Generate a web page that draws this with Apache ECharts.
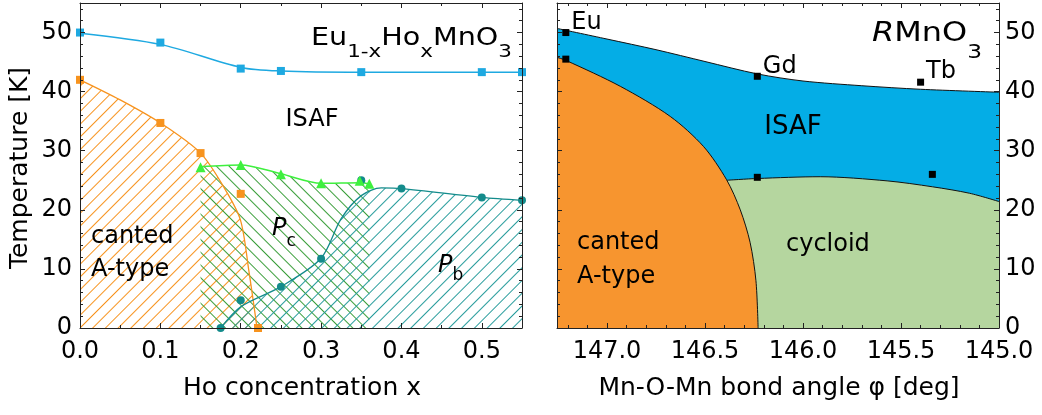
<!DOCTYPE html>
<html><head><meta charset="utf-8">
<script src="https://cdn.jsdelivr.net/npm/echarts@6/dist/echarts.min.js"></script>
<style>html,body{margin:0;padding:0;background:#fff}#c{width:1042px;height:415px}</style>
</head><body><div id="c"></div>
<script>
// ===== data: left panel (Eu1-xHoxMnO3) =====
const leftXTicks = [0, 0.1, 0.2, 0.3, 0.4, 0.5];
const tempTicks = [0, 10, 20, 30, 40, 50];
const cyanPts = [[0,50.0],[0.1,48.3],[0.2,43.9],[0.25,43.5],[0.35,43.3],[0.5,43.3],[0.55,43.3]];
const cyanCurve = [[0,49.9],[0.1,48.0],[0.2,44.1],[0.25,43.5],[0.35,43.3],[0.5,43.3],[0.55,43.3]];
const orangePts = [[0,42.0],[0.1,34.7],[0.15,29.6],[0.2,22.7],[0.2215,0]];
const orangeCurve = [[0,42.0],[0.05,38.6],[0.1,34.7],[0.15,29.6],[0.18,23.6],[0.1996,18.3],[0.21,9.8],[0.2203,0]];
const greenPts = [[0.15,27.2],[0.2,27.6],[0.25,26.0],[0.3,24.5],[0.348,24.9],[0.36,24.4]];
const greenCurve = [[0.15,27.3],[0.2,27.6],[0.25,26.1],[0.3,24.5],[0.35,24.6],[0.36,24.4]];
const tealPts = [[0.175,0],[0.2,4.7],[0.25,7.0],[0.3,11.7],[0.35,25.0],[0.4,23.6],[0.5,22.1],[0.55,21.6]];
const tealCurve = [[0.175,0],[0.2,3.6],[0.25,7.0],[0.3,11.8],[0.325,18.5],[0.35,22.4],[0.375,23.7],[0.4,23.6],[0.5,22.1],[0.55,21.6]];

// ===== data: right panel (RMnO3) =====
const rightXTicks = [145.0, 145.5, 146.0, 146.5, 147.0];
const rTopCurve = [[147.255,50.7],[147.0,48.9],[146.75,47.1],[146.5,45.1],[146.233,43.0],[146.0,41.8],[145.7,41.0],[145.4,40.4],[145.0,39.9]];
const rOrangeCurve = [[147.255,45.8],[147.21,45.3],[146.932,40.9],[146.677,35.8],[146.507,30.7],[146.39,25.1],[146.32,20.0],[146.27,14.5],[146.24,8],[146.229,0]];
const rGreenCurve = [[146.39,25.0],[146.233,25.3],[145.912,25.6],[145.571,24.9],[145.34,23.9],[145.15,22.8],[145.0,21.4]];
const rNamedPts = [[147.21,50.0],[146.233,42.6],[145.40,41.6]];
const rNames = ['Eu','Gd','Tb'];
const rOtherPts = [[147.21,45.5],[146.233,25.5],[145.34,26.0]];

// ===== style =====
const FONT = 'DejaVu Sans';
const AX = '#222';
const C = {cyan:'#1ea9e1', orange:'#f7931e', lime:'#3ef03e', teal:'#138b8b',
  greenH:'#3a9e3a', tealH:'#279c9c', blue:'#04ade6', rOrange:'#f7952f', rGreen:'#b5d69f'};

// diagonal hatch through ECharts decal: dir '/' or '\'
function hatch(color, dir) {
  return {symbol:'rect', symbolSize:1, dashArrayX:[1,0], dashArrayY:[1,8],
    rotation: dir === '/' ? -Math.PI/4 : Math.PI/4, color, backgroundColor:null};
}

function ax(grid, pos, min, max, interval, len, main, labels, inverse, fmt, margin) {
  return {type:'value', gridIndex:grid, position:pos, min, max, interval, inverse:!!inverse, z:10,
    axisLine:{show:main, onZero:false, lineStyle:{color:AX, width:1}},
    axisTick:{show:true, inside:true, length:len, lineStyle:{color:AX, width:1}},
    axisLabel:{show:!!labels, formatter:fmt, fontSize:24, fontFamily:FONT, color:'#000', margin:margin||10},
    splitLine:{show:false}};
}
const fmtLX = v => leftXTicks.some(t => Math.abs(t - v) < 1e-6) ? v.toFixed(1) : '';
const fmtRX = v => rightXTicks.some(t => Math.abs(t - v) < 1e-6) ? v.toFixed(1) : '';
const fmtT = v => tempTicks.some(t => Math.abs(t - v) < 1e-6) ? String(Math.round(v)) : '';

const LXmin = 0, LXmax = 0.55, RXmin = 145.0, RXmax = 147.255, Tmin = 0, Tmax = 55;
const LXint = leftXTicks[1] - leftXTicks[0];
const RXint = rightXTicks[1] - rightXTicks[0];
const Tint = tempTicks[1] - tempTicks[0];

const xAxis = [
  ax(0,'bottom',LXmin,LXmax,LXint,5,true,true,false,fmtLX,12),
  ax(0,'bottom',LXmin,LXmax,LXint/2,3,false,false),
  ax(0,'top',LXmin,LXmax,LXint,5,true,false),
  ax(0,'top',LXmin,LXmax,LXint/2,3,false,false),
  ax(1,'bottom',RXmin,RXmax,RXint,5,true,true,true,fmtRX,12),
  ax(1,'bottom',RXmin,RXmax,RXint/5,3,false,false,true),
  ax(1,'top',RXmin,RXmax,RXint,5,true,false,true),
  ax(1,'top',RXmin,RXmax,RXint/5,3,false,false,true)
];
const yAxis = [
  ax(0,'left',Tmin,Tmax,Tint,5,true,true,false,fmtT,8),
  ax(0,'left',Tmin,Tmax,Tint/5,3,false,false),
  ax(0,'right',Tmin,Tmax,Tint,5,true,false),
  ax(0,'right',Tmin,Tmax,Tint/5,3,false,false),
  ax(1,'right',Tmin,Tmax,Tint,5,true,true,false,fmtT,6),
  ax(1,'right',Tmin,Tmax,Tint/5,3,false,false),
  ax(1,'left',Tmin,Tmax,Tint,5,true,false),
  ax(1,'left',Tmin,Tmax,Tint/5,3,false,false)
];

const L = {xAxisIndex:0, yAxisIndex:0, silent:true};
const R = {xAxisIndex:4, yAxisIndex:4, silent:true};
const line = (base, data, color, width, area, z, sm) => Object.assign({type:'line', data, smooth: sm == null ? 0.3 : sm,
  symbol:'none', showSymbol:false, lineStyle:{color, width}, areaStyle: area ? Object.assign({opacity:1}, area) : undefined, z}, base);
const hatchLine = (base, data, color, width, hColor, dir, z) => Object.assign(
  line(base, data, color, width, {color:'rgba(255,255,255,0)'}, z), {itemStyle:{color, decal:hatch(hColor, dir)}});
const pts = (base, data, symbol, size, color, z) => Object.assign({type:'scatter', data, symbol, symbolSize:size,
  itemStyle:{color, opacity:1}, z}, base);

const series = [
  hatchLine(L, orangeCurve, C.orange, 1.3, C.orange, '/', 2),
  hatchLine(L, greenCurve, C.lime, 1.5, C.greenH, '\\', 2),
  hatchLine(L, tealCurve, C.teal, 1.3, C.tealH, '/', 2),
  line(L, cyanCurve, C.cyan, 1.5, null, 3),
  pts(L, cyanPts, 'rect', 8, C.cyan, 4),
  pts(L, orangePts, 'rect', 8, C.orange, 4),
  pts(L, tealPts, 'circle', 8, C.teal, 4),
  pts(L, greenPts, 'triangle', 10, C.lime, 5),
  line(R, rTopCurve, '#111', 1, {color:C.blue}, 2),
  line(R, rGreenCurve, '#111', 1, {color:C.rGreen}, 3),
  line(R, rOrangeCurve, '#111', 1, {color:C.rOrange}, 4),
  Object.assign(pts(R, rNamedPts.map((p,i)=>({value:p, name:rNames[i]})), 'rect', 7, '#000', 6), {
    label:{show:true, position:'right', distance:2, offset:[0,-10], formatter:'{b}', fontSize:24, fontFamily:FONT, color:'#000'}}),
  pts(R, rOtherPts, 'rect', 7, '#000', 6)
];

// ===== text helpers =====
const meas = document.createElement('canvas').getContext('2d');
function tw(t, size, it) { meas.font = (it ? 'italic ' : '') + size + 'px "' + FONT + '"'; return meas.measureText(t).width; }
function txt(x, y, t, size, align, it, rot) {
  return {type:'text', x, y, rotation: rot || 0, z:50, silent:true,
    style:{text:t, fontSize:size, fontFamily:FONT, fontStyle: it ? 'italic' : 'normal', fill:'#000', align:align||'left', verticalAlign:'middle'}};
}
function comp(x, y, parts, width) {
  let cx = 0; const children = [];
  parts.forEach(p => { children.push(txt(cx, p[2] - 0.3645 * p[1], p[0], p[1], 'left', p[3])); cx += tw(p[0], p[1], p[3]); });
  return {type:'group', x, y, scaleX: width ? width / cx : 1, z:50, children};
}

const graphic = [
  comp(311, 47.5, [['Eu',24,0],['1-x',18,11.5],['Ho',24,0],['x',18,11.5],['MnO',24,0],['3',18,11.5]], 201),
  txt(312, 120, 'ISAF', 24, 'center'),
  txt(91, 237, 'canted', 24),
  txt(91, 270, 'A-type', 24),
  comp(272, 237.5, [['P',24,0,true],['c',17,10]]),
  comp(438, 274.5, [['P',24,0,true],['b',17,7.5]]),
  comp(872, 43.3, [['R',26,0,true],['MnO',26,0],['3',19,16.5]], 110),
  txt(793, 127.5, 'ISAF', 26, 'center'),
  txt(577, 243, 'canted', 24),
  txt(577, 277, 'A-type', 24),
  txt(786, 245, 'cycloid', 24),
  txt(302, 388, 'Ho concentration x', 25, 'center'),
  txt(779, 388, 'Mn-O-Mn bond angle \u03C6 [deg]', 25, 'center'),
  txt(20, 168, 'Temperature [K]', 25, 'center', false, Math.PI / 2)
];

const chart = echarts.init(document.getElementById('c'), null, {renderer:'canvas', width:1042, height:415});
chart.setOption({
  animation:false,
  backgroundColor:'#fff',
  grid:[{left:80, top:3, width:442, height:325}, {left:557, top:3, width:442, height:325}],
  xAxis, yAxis, series, graphic
});
</script></body></html>
